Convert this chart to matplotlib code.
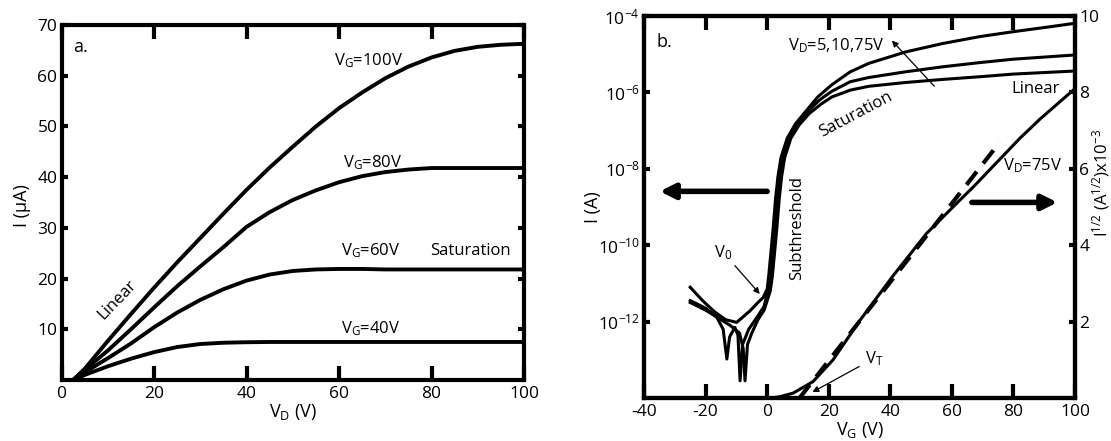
import numpy as np
import matplotlib.pyplot as plt

plt.rcParams['font.family'] = ['Open Sans', 'DejaVu Sans']
plt.rcParams['mathtext.default'] = 'regular'
plt.rcParams['axes.unicode_minus'] = False

# ---- panel a: output curves, I (uA) vs V_D ----
vd = [0, 2.5, 5, 10, 15, 20, 25, 30, 35, 40, 45, 50, 55, 60, 65, 70, 75, 80, 85, 90, 95, 100]
i_vg100 = [0, 0, 2.2, 7.7, 13.0, 18.2, 23.2, 28.0, 32.8, 37.5, 41.9, 46.0, 50.0, 53.6,
           56.7, 59.5, 61.8, 63.6, 64.9, 65.7, 66.1, 66.3]
i_vg80 = [0, 0, 2.0, 5.8, 10.0, 14.3, 18.5, 22.4, 26.2, 30.2, 33.1, 35.5, 37.4, 39.0,
          40.2, 41.0, 41.5, 41.8, 41.8, 41.8, 41.8, 41.8]
i_vg60 = [0, 0, 1.5, 4.3, 7.2, 10.4, 13.3, 15.8, 17.9, 19.6, 20.8, 21.5, 21.8, 21.9,
          21.9, 21.8, 21.8, 21.8, 21.8, 21.8, 21.8, 21.8]
i_vg40 = [0, 0, 1.0, 2.7, 4.2, 5.5, 6.5, 7.1, 7.35, 7.45, 7.5, 7.5, 7.5, 7.5,
          7.5, 7.5, 7.5, 7.5, 7.5, 7.5, 7.5, 7.5]
a_labels = ['V$_G$=100V', 'V$_G$=80V', 'V$_G$=60V', 'V$_G$=40V']

# ---- panel b: transfer curves, log10 I (A) vs V_G ----
vg_75 = [-25, -21, -17, -13.5, -9.9, -5.6, -3, -1.3, 0, 0.5, 1.2, 2, 2.7, 3.5, 4.5, 6.5,
         9.2, 12.5, 16.4, 21, 27, 33, 45, 57, 69, 80, 92, 100]
logi_75 = [-11.1, -11.45, -11.75, -11.95, -12.02, -11.72, -11.5, -11.37, -11.15, -10.8,
           -10.2, -9.5, -8.8, -8.2, -7.7, -7.2, -6.82, -6.5, -6.12, -5.8, -5.46, -5.24,
           -4.94, -4.72, -4.54, -4.41, -4.28, -4.19]
vg_10 = [-25, -20, -16.4, -14.3, -13.1, -12.2, -10.5, -9.5, -8.8, -8.0, -6, -3, -1, 0.5,
         1.1, 1.8, 2.6, 3.3, 4.1, 5.1, 7.1, 9.8, 13.1, 17.0, 21, 27, 33, 45, 57, 69, 80, 100]
logi_10 = [-11.45, -11.65, -11.88, -12.2, -12.98, -12.4, -12.15, -12.35, -13.55, -12.6,
           -12.2, -11.85, -11.6, -11.1, -10.8, -10.2, -9.5, -8.8, -8.2, -7.7, -7.2, -6.82,
           -6.5, -6.2, -5.97, -5.72, -5.61, -5.46, -5.33, -5.22, -5.13, -5.02]
vg_5 = [-25, -20, -16, -12, -9, -7.8, -7.2, -6.4, -5, -3, -1, 1, 1.7, 2.4, 3.2, 3.9, 4.7,
        5.7, 7.7, 10.4, 13.7, 17.6, 21, 27, 33, 45, 57, 69, 80, 100]
logi_5 = [-11.5, -11.7, -11.9, -12.1, -12.3, -12.7, -13.55, -12.6, -12.3, -11.95, -11.7,
          -11.2, -10.8, -10.2, -9.5, -8.8, -8.2, -7.7, -7.2, -6.85, -6.55, -6.3, -6.12,
          -5.94, -5.84, -5.74, -5.66, -5.59, -5.52, -5.44]

# sqrt(I) x 1e3 at V_D = 75 V, right axis
vg_sqrt = [-12, 1, 4, 8.5, 14.9, 21.4, 30.2, 40.9, 51.8, 62.6, 66.9, 82.1, 88.6, 100]
sqrt_i = [0, 0, 0.03, 0.13, 0.43, 1.0, 2.04, 3.2, 4.31, 5.18, 5.52, 6.8, 7.3, 8.1]
vg_fit = [10.5, 75.6]
sqrt_fit = [0, 6.7]

TICK = 12.5
TXT = 12
LAB = 13

fig = plt.figure(figsize=(11.11, 4.41), dpi=100)
ax1 = fig.add_axes([0.0554, 0.1383, 0.4163, 0.8050])
ax2 = fig.add_axes([0.5797, 0.0975, 0.3879, 0.8662])
ax3 = ax2.twinx()

def style(ax):
    for s in ax.spines.values():
        s.set_linewidth(3)
    ax.tick_params(axis='x', which='major', direction='in', length=10, width=3,
                   top=True, labelsize=TICK, pad=4)
    ax.tick_params(axis='y', which='major', direction='in', length=4, width=3,
                   labelsize=TICK, pad=3)
    ax.tick_params(which='minor', length=0)

# panel a
for curve in [i_vg100, i_vg80, i_vg60, i_vg40]:
    ax1.plot(vd, curve, color='black', lw=2.8, solid_capstyle='round')
ax1.set_xlim(0, 100)
ax1.set_ylim(0, 70)
ax1.set_xticks([0, 20, 40, 60, 80, 100])
ax1.set_yticks([10, 20, 30, 40, 50, 60, 70])
style(ax1)
ax1.tick_params(axis='y', right=True)
ax1.set_xlabel('V$_D$ (V)', fontsize=LAB)
ax1.set_ylabel('I (μA)', fontsize=LAB)
ax1.xaxis.set_label_coords(0.5, -0.09)
ax1.xaxis.label.set_va('center')
ax1.yaxis.set_label_coords(-0.085, 0.49)
ax1.yaxis.label.set_va('center')

ax1.text(59, 62.1, a_labels[0], fontsize=TXT)
ax1.text(60.8, 42.0, a_labels[1], fontsize=TXT)
ax1.text(60.5, 24.6, a_labels[2], fontsize=TXT)
ax1.text(60.5, 9.2, a_labels[3], fontsize=TXT)
ax1.text(79.7, 24.6, 'Saturation', fontsize=TXT)
ax1.text(12.1, 15.8, 'Linear', fontsize=TXT, rotation=46, ha='center', va='center')
ax1.text(2.5, 64.7, 'a.', fontsize=TXT + 1)

# panel b
for vg, li in [(vg_75, logi_75), (vg_10, logi_10), (vg_5, logi_5)]:
    ax2.plot(vg, np.power(10.0, li), color='black', lw=2.2)
ax2.set_yscale('log')
ax2.set_xlim(-40, 100)
ax2.set_ylim(1e-14, 1e-4)
ax2.set_xticks([-40, -20, 0, 20, 40, 60, 80, 100])
ax2.set_yticks([1e-12, 1e-10, 1e-8, 1e-6, 1e-4])
ax2.set_yticklabels(['10$^{-12}$', '10$^{-10}$', '10$^{-8}$', '10$^{-6}$', '10$^{-4}$'])
style(ax2)
ax2.set_xlabel('V$_G$ (V)', fontsize=LAB)
ax2.set_ylabel('I (A)', fontsize=LAB)
ax2.xaxis.set_label_coords(0.5, -0.084)
ax2.xaxis.label.set_va('center')
ax2.yaxis.set_label_coords(-0.118, 0.5)
ax2.yaxis.label.set_va('center')

ax3.plot(vg_sqrt, sqrt_i, color='black', lw=2.2)
ax3.plot(vg_fit, sqrt_fit, color='black', lw=3, dashes=(4, 2.5))
ax3.set_ylim(0, 10)
ax3.set_yticks([2, 4, 6, 8, 10])
for s in ax3.spines.values():
    s.set_linewidth(3)
ax3.tick_params(axis='y', direction='in', length=4, width=3, labelsize=TICK, pad=3)
ax3.set_ylabel('I$^{1/2}$ (A$^{1/2}$)x10$^{-3}$', fontsize=TXT)
ax3.yaxis.set_label_coords(1.060, 0.563)
ax3.yaxis.label.set_va('center')

ax2.text(-35.8, 10**-4.81, 'b.', fontsize=TXT + 1)
ax2.text(6.8, 10**-4.89, 'V$_D$=5,10,75V', fontsize=TXT)
ax2.annotate('', xy=(39.9, 10**-4.59), xytext=(54.9, 10**-5.89),
             arrowprops=dict(arrowstyle='-|>', color='black', lw=0.9, mutation_scale=9))
ax2.text(95.2, 10**-5.9, 'Linear', fontsize=TXT, ha='right', va='center')
ax2.text(28.7, 10**-6.57, 'Saturation', fontsize=TXT, rotation=28, ha='center', va='center')
ax2.text(95.8, 10**-8.04, 'V$_D$=75V', fontsize=TXT, ha='right')
ax2.text(9.7, 10**-9.55, 'Subthreshold', fontsize=TXT, rotation=90, ha='center', va='center')
ax2.text(-14.2, 10**-10.19, 'V$_0$', fontsize=TXT, ha='center', va='center')
ax2.annotate('', xy=(-1.8, 10**-11.33), xytext=(-11.1, 10**-10.48),
             arrowprops=dict(arrowstyle='-|>', color='black', lw=0.9, mutation_scale=9))
ax2.annotate('', xy=(-35.8, 10**-8.59), xytext=(0.9, 10**-8.59),
             arrowprops=dict(arrowstyle='-|>', color='black', lw=4, mutation_scale=22))
ax2.annotate('', xy=(95.2, 10**-8.88), xytext=(65.6, 10**-8.88),
             arrowprops=dict(arrowstyle='-|>', color='black', lw=4, mutation_scale=22))
ax3.text(34.7, 1.02, 'V$_T$', fontsize=TXT, ha='center', va='center')
ax3.annotate('', xy=(13.9, 0.12), xytext=(30.7, 0.86),
             arrowprops=dict(arrowstyle='-|>', color='black', lw=0.9, mutation_scale=9))

fig.savefig('out.png', dpi=100)
